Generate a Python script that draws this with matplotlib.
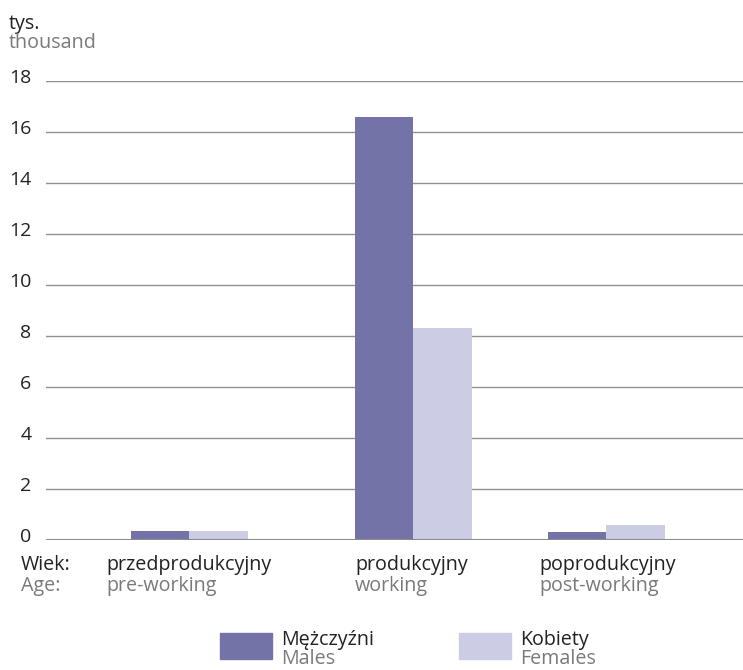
import matplotlib
matplotlib.use("Agg")
import matplotlib.pyplot as plt
from matplotlib.patches import Rectangle

plt.rcParams['font.family'] = ['Open Sans', 'DejaVu Sans']

categories_pl = ["przedprodukcyjny", "produkcyjny", "poprodukcyjny"]
categories_en = ["pre-working", "working", "post-working"]
males = [0.35, 16.6, 0.31]
females = [0.35, 8.3, 0.6]
yticks = [0, 2, 4, 6, 8, 10, 12, 14, 16, 18]
series_pl = ["Mężczyźni", "Kobiety"]
series_en = ["Males", "Females"]

MALE_C = "#7473a8"
FEMALE_C = "#cccce4"
DARK = "#222222"
GREY = "#7a7a7a"

W, H = 743, 670
fig = plt.figure(figsize=(W / 100, H / 100), dpi=100)

def fx(px):
    return px / W

def fy(py):
    return 1 - py / H

ax_left, ax_right = 46, 743
ax_top, ax_bottom = 81, 540
ax = fig.add_axes([fx(ax_left), fy(ax_bottom), fx(ax_right - ax_left), (ax_bottom - ax_top) / H])
ax.set_xlim(ax_left, ax_right)
ax.set_ylim(0, 18)

# group centres in pixel units of the x axis
centers = [189, 413, 606]
bw = 58.5
ax.bar([c - bw / 2 for c in centers], males, width=bw, color=MALE_C, zorder=3)
ax.bar([c + bw / 2 for c in centers], females, width=bw, color=FEMALE_C, zorder=3)

for t in yticks[1:]:
    ax.axhline(t, color="#909090", lw=1.0, zorder=1)
ax.axhline(0, color="#8c8c8c", lw=2.2, zorder=4)

for s in ax.spines.values():
    s.set_visible(False)
ax.set_xticks([])
ax.set_yticks([])
for t in yticks:
    ax.text(-0.021, t + 0.12, str(t), transform=ax.get_yaxis_transform(),
            ha="right", va="center", fontsize=14, color=DARK)

fs = 14.2
fig.text(fx(9), fy(29), "tys.", fontsize=fs, color=DARK, va="baseline")
fig.text(fx(9), fy(48), "thousand", fontsize=fs, color=GREY, va="baseline")

fig.text(fx(21), fy(570), "Wiek:", fontsize=fs, color=DARK, va="baseline")
fig.text(fx(21), fy(591), "Age:", fontsize=fs, color=GREY, va="baseline")
label_x = [106, 355, 539]
for x, pl, en in zip(label_x, categories_pl, categories_en):
    fig.text(fx(x), fy(570), pl, fontsize=fs, color=DARK, va="baseline")
    fig.text(fx(x), fy(591), en, fontsize=fs, color=GREY, va="baseline")

leg_x = [220, 459]
for x, c, pl, en in zip(leg_x, [MALE_C, FEMALE_C], series_pl, series_en):
    fig.patches.append(Rectangle((fx(x), fy(659)), fx(52), 26 / H, color=c,
                                 transform=fig.transFigure, figure=fig))
    fig.text(fx(x + 61), fy(645), pl, fontsize=fs, color=DARK, va="baseline")
    fig.text(fx(x + 61), fy(664), en, fontsize=fs, color=GREY, va="baseline")

fig.savefig("out.png", dpi=100)
